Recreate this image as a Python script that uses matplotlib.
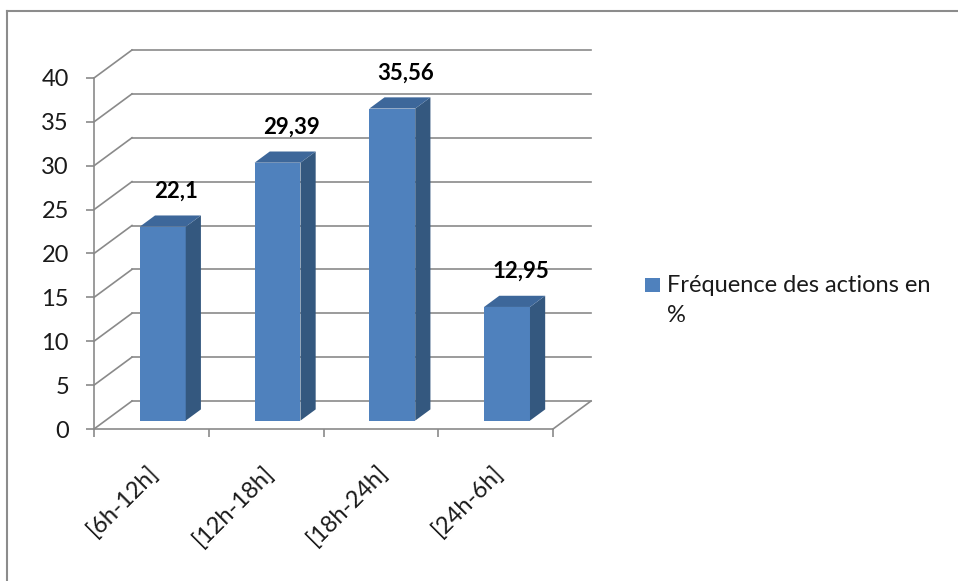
import matplotlib.pyplot as plt
from matplotlib.patches import Polygon, Rectangle
from matplotlib.lines import Line2D
import numpy as np

# data
categories = ['[6h-12h]', '[12h-18h]', '[18h-24h]', '[24h-6h]']
values = [22.1, 29.39, 35.56, 12.95]
value_labels = ['22,1', '29,39', '35,56', '12,95']
series_name = 'Fréquence des actions en\n%'
y_ticks = [0, 5, 10, 15, 20, 25, 30, 35, 40]

plt.rcParams['font.family'] = ['Lato', 'DejaVu Sans']

FRONT = '#4F81BD'
SIDE = '#34587F'
TOP = '#3D679A'
GRID = '#8A8A8A'
TXT = '#1A1A1A'

# depth of the fake 3D box, in data units
DX = 0.331
DY = 3.19
# bar sits between these depth fractions
D0, D1 = 0.3, 0.7
BAR_W = 0.4

W, H = 958, 581
fig = plt.figure(figsize=(W / 100, H / 100), dpi=100)
ax = fig.add_axes([94 / W, (H - 429) / H, 497 / W, (429 - 50) / H])
n = len(categories)
x = np.arange(n)
ax.set_xlim(-0.5, n - 0.5 + DX)
ax.set_ylim(0, y_ticks[-1] + DY)
ax.patch.set_visible(False)

# walls: back gridlines + diagonals on the left wall
for v in y_ticks:
    ax.plot([-0.5 + DX, n - 0.5 + DX], [v + DY, v + DY], color=GRID, lw=1.2, zorder=1, clip_on=False)
    ax.plot([-0.5, -0.5 + DX], [v, v + DY], color=GRID, lw=1.2, zorder=1, clip_on=False)
# floor right edge
ax.plot([n - 0.5, n - 0.5 + DX], [0, DY], color=GRID, lw=1.2, zorder=1, clip_on=False)

# spines as front axes
for s in ['top', 'right']:
    ax.spines[s].set_visible(False)
ax.spines['left'].set_bounds(0, y_ticks[-1])
ax.spines['bottom'].set_bounds(-0.5, n - 0.5)
for s in ['left', 'bottom']:
    ax.spines[s].set_color(GRID)
    ax.spines[s].set_linewidth(1.2)

ax.set_yticks(y_ticks)
ax.set_yticklabels([str(t) for t in y_ticks])
ax.tick_params(axis='y', length=6, width=1.2, color=GRID, pad=12, labelsize=17, labelcolor=TXT)
ax.set_xticks(np.arange(n + 1) - 0.5)
ax.set_xticklabels([''] * (n + 1))
ax.tick_params(axis='x', length=6, width=1.2, color=GRID)

# bars: front face through ax.bar, side and top faces from the same values
ax.bar(x + D0 * DX, values, width=BAR_W, bottom=D0 * DY, color=FRONT, zorder=3)
dd = (D1 - D0)
for xi, v in zip(x, values):
    xl = xi + D0 * DX - BAR_W / 2
    xr = xi + D0 * DX + BAR_W / 2
    yb = D0 * DY
    yt = v + D0 * DY
    side = [(xr, yb), (xr + dd * DX, yb + dd * DY), (xr + dd * DX, yt + dd * DY), (xr, yt)]
    top = [(xl, yt), (xr, yt), (xr + dd * DX, yt + dd * DY), (xl + dd * DX, yt + dd * DY)]
    ax.add_patch(Polygon(side, closed=True, facecolor=SIDE, edgecolor='none', zorder=3))
    ax.add_patch(Polygon(top, closed=True, facecolor=TOP, edgecolor='none', zorder=3))

# value labels
for xi, v, lab in zip(x, values, value_labels):
    ax.annotate(lab, (xi + 0.5 * DX, v + 0.5 * DY), xytext=(6, 30), textcoords='offset pixels',
                ha='center', va='center', fontsize=16, fontweight='bold', color='black', zorder=5)

# category labels, rotated
for xi, lab in zip(x, categories):
    ax.annotate(lab, (xi, 0), xytext=(4, -40), textcoords='offset pixels',
                ha='right', va='center', rotation=45, rotation_mode='anchor',
                fontsize=17, color=TXT, annotation_clip=False)

# legend
fig.patches.append(Rectangle((645 / W, (H - 292) / H), 15 / W, 14 / H, transform=fig.transFigure,
                             facecolor=FRONT, edgecolor='none'))
fig.text(667 / W, (H - 275) / H, series_name, ha='left', va='top', fontsize=17,
         color=TXT, linespacing=1.55)

# chart area border (runs off the right and bottom edges)
fig.add_artist(Line2D([7 / W, 1], [(H - 11) / H] * 2, transform=fig.transFigure, color='#8C8C8C', lw=1.5))
fig.add_artist(Line2D([7 / W] * 2, [0, (H - 11) / H], transform=fig.transFigure, color='#8C8C8C', lw=1.5))

fig.savefig('out.png', dpi=100, facecolor='white')
